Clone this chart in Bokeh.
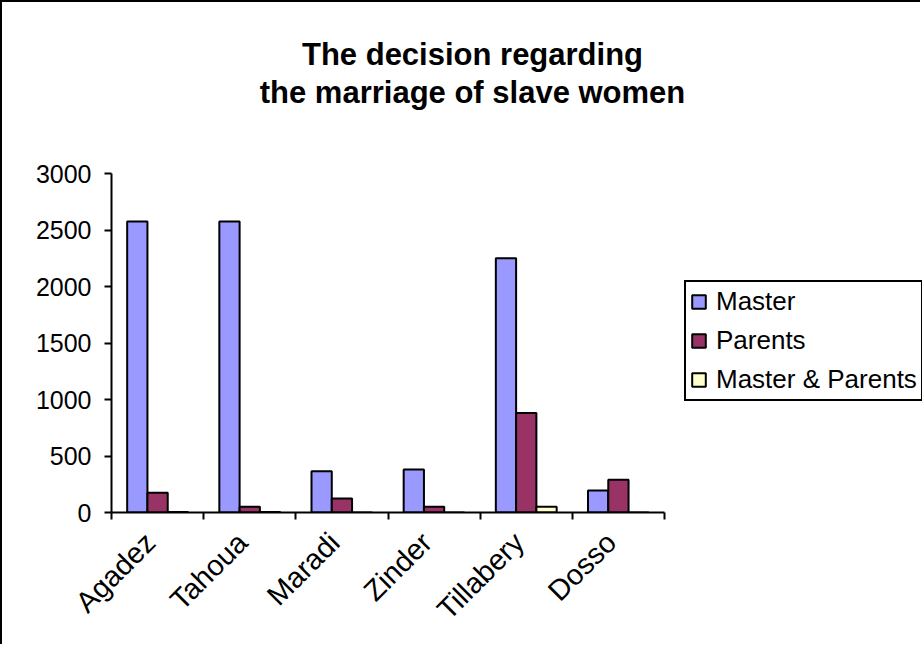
import numpy as np
from bokeh.plotting import figure
from bokeh.models import (ColumnDataSource, Range1d, FixedTicker, CustomJSTickFormatter,
                          Legend, LegendItem, Label)
from bokeh.transform import dodge
from bokeh.embed import file_html
from bokeh.resources import INLINE

# ---- data ----
categories = ["Agadez", "Tahoua", "Maradi", "Zinder", "Tillabery", "Dosso"]
master = [2575, 2575, 365, 380, 2250, 195]
parents = [175, 50, 125, 50, 880, 290]
master_parents = [5, 5, 0, 0, 50, 0]
y_ticks = [0, 500, 1000, 1500, 2000, 2500, 3000]
y_max = 3000
series_names = ["Master", "Parents", "Master & Parents"]
title_lines = ["The decision regarding", "the marriage of slave women"]

colors = ["#9999FF", "#993366", "#FFFFCC"]
FONT = "Liberation Sans"

# ---- layout (pixels) ----
W, H = 920, 644
MB_LEFT, MB_TOP, MB_BOTTOM = 109, 10, 134
AXIS_W = 553          # width of the category axis
AXIS_H = 339          # height of the value axis
frame_w = W - MB_LEFT
frame_h = H - MB_TOP - MB_BOTTOM

n = len(categories)
x_end = n * frame_w / AXIS_W
y_end = y_max * frame_h / AXIS_H

def px_x(px):  # frame-relative px -> data x
    return px / AXIS_W * n

def px_y(px):  # px above axis -> data y
    return px / AXIS_H * y_max

source = ColumnDataSource(dict(
    x=np.arange(n) + 0.5,
    master=master, parents=parents, mp=master_parents,
))

p = figure(width=W, height=H, output_backend="svg", toolbar_location=None,
           x_range=Range1d(0, x_end), y_range=Range1d(0, y_end),
           min_border_left=MB_LEFT, min_border_right=0,
           min_border_top=MB_TOP, min_border_bottom=MB_BOTTOM)
p.styles = {"border-left": "2px solid black", "border-top": "2px solid black"}
p.outline_line_color = None
p.xgrid.visible = False
p.ygrid.visible = False
p.background_fill_color = "white"
p.border_fill_color = "white"

bw = 0.22
fields = ["master", "parents", "mp"]
offsets = [-bw, 0, bw]
renderers = []
for f, off, c in zip(fields, offsets, colors):
    r = p.vbar(x=dodge("x", off), top=f, width=bw, bottom=0, source=source,
               fill_color=c, line_color="black", line_width=2)
    renderers.append(r)

# x axis: labels at centers, tick marks at boundaries
xa = p.xaxis[0]
xa.bounds = (0, n)
xa.ticker = FixedTicker(ticks=list(np.arange(n) + 0.42), minor_ticks=list(range(n + 1)))
xa.formatter = CustomJSTickFormatter(args=dict(cats=categories),
                                     code="return cats[Math.floor(tick)] || '';")
xa.major_tick_line_color = None
xa.minor_tick_line_color = "black"
xa.minor_tick_line_width = 2
xa.minor_tick_out = 7
xa.minor_tick_in = 0
xa.axis_line_width = 2
xa.axis_line_color = "black"
xa.major_label_orientation = np.pi / 4
xa.major_label_text_font = FONT
xa.major_label_text_font_size = "29px"
xa.major_label_text_color = "black"
xa.major_label_standoff = 18

ya = p.yaxis[0]
ya.bounds = (0, y_max)
ya.ticker = FixedTicker(ticks=y_ticks)
ya.minor_tick_line_color = None
ya.major_tick_out = 7
ya.major_tick_in = 0
ya.major_tick_line_width = 2
ya.axis_line_width = 2
ya.axis_line_color = "black"
ya.major_label_text_font = FONT
ya.major_label_text_font_size = "25px"
ya.major_label_text_color = "black"
ya.major_label_standoff = 13

legend = Legend(items=[LegendItem(label=nm, renderers=[r]) for nm, r in zip(series_names, renderers)],
                location=(573, 111))
legend.border_line_color = "black"
legend.border_line_width = 2
legend.border_line_alpha = 1
legend.background_fill_color = "white"
legend.background_fill_alpha = 1
legend.label_text_font = FONT
legend.label_text_font_size = "26px"
legend.label_text_color = "black"
legend.glyph_width = 17
legend.glyph_height = 17
legend.label_height = 30
legend.label_standoff = 9
legend.spacing = 8
legend.padding = 4
legend.margin = 0
p.add_layout(legend)

# title (two centred bold lines above the plot area)
for line, above in zip(title_lines, [458, 420]):
    p.add_layout(Label(x=px_x(361), y=px_y(above), text=line,
                       text_align="center", text_baseline="alphabetic",
                       text_font=FONT, text_font_size="31px", text_font_style="bold",
                       text_color="black"))

open("out.html", "w").write(file_html(p, INLINE))
